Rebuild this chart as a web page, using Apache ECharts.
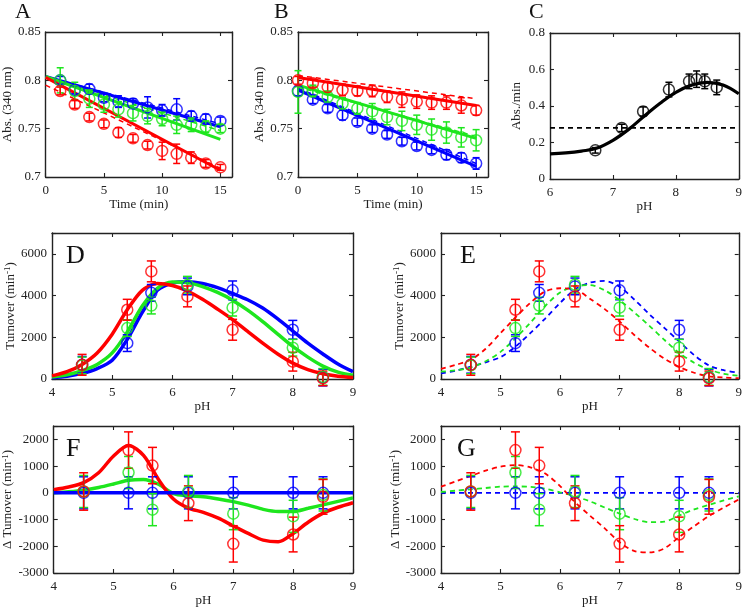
<!DOCTYPE html>
<html><head><meta charset="utf-8">
<script src="https://cdn.jsdelivr.net/npm/echarts@6/dist/echarts.min.js"></script>
<style>html,body{margin:0;padding:0;background:#fff}#c{width:745px;height:608px}</style>
</head><body><div id="c"></div>
<script>
// ---------------- DATA ----------------
// Panel A (absorbance vs time)
const timeA = [1.25,2.5,3.75,5,6.25,7.5,8.75,10,11.25,12.5,13.75,15];
const aBlue = [0.800,0.790,0.791,0.782,0.778,0.776,0.772,0.769,0.770,0.763,0.760,0.758];
const aBlueErr = [0.004,0.004,0.005,0.004,0.006,0.005,0.011,0.006,0.011,0.005,0.005,0.004];
const aGreen = [0.800,0.789,0.781,0.775,0.770,0.766,0.763,0.760,0.754,0.754,0.752,0.750];
const aGreenErr = [0.013,0.009,0.009,0.008,0.008,0.008,0.008,0.007,0.009,0.007,0.006,0.004];
const aRed = [0.789,0.775,0.762,0.755,0.746,0.740,0.733,0.727,0.724,0.720,0.714,0.710];
const aRedErr = [0.004,0.004,0.004,0.004,0.005,0.004,0.004,0.009,0.010,0.006,0.004,0.003];
const fitT = [0, 15];
const aBlueFit = [0.804, 0.752], aBlueDash = [0.804, 0.755];
const aGreenFit = [0.804, 0.739], aGreenDash = [0.803, 0.748];
const aRedFit = [0.803, 0.707], aRedDash = [0.795, 0.709];

// Panel B
const timeB = [0,1.25,2.5,3.75,5,6.25,7.5,8.75,10,11.25,12.5,13.75,15];
const bRed = [0.800,0.797,0.793,0.790,0.789,0.789,0.783,0.780,0.778,0.777,0.777,0.774,0.769];
const bRedErr = [0.004,0.004,0.005,0.006,0.005,0.006,0.006,0.008,0.007,0.007,0.007,0.008,0.005];
const bGreen = [0.788,0.789,0.783,0.776,0.771,0.768,0.762,0.758,0.754,0.749,0.746,0.741,0.738];
const bGreenErr = [0.022,0.006,0.006,0.006,0.006,0.008,0.008,0.010,0.010,0.011,0.011,0.010,0.011];
const bBlue = [0.789,0.780,0.771,0.764,0.757,0.750,0.744,0.737,0.732,0.728,0.723,0.720,0.714];
const bBlueErr = [0.005,0.004,0.004,0.005,0.004,0.004,0.004,0.004,0.004,0.004,0.005,0.005,0.006];
const bRedFit = [0.803, 0.774], bRedDash = [0.805, 0.781];
const bGreenFit = [0.795, 0.740], bGreenDash = [0.793, 0.742];
const bBlueFit = [0.790, 0.711], bBlueDash = [0.792, 0.714];

// Panel C
const cPH = [6.72,7.14,7.48,7.89,8.21,8.33,8.46,8.65];
const cRate = [0.157,0.280,0.370,0.490,0.535,0.547,0.535,0.502];
const cErr = [0.015,0.02,0.025,0.04,0.04,0.045,0.04,0.04];
const cFitPH = [6,6.25,6.5,6.75,7,7.25,7.5,7.75,8,8.25,8.5,8.75,9];
const cFit = [0.138,0.143,0.153,0.170,0.212,0.272,0.345,0.415,0.475,0.515,0.530,0.515,0.467];
const cRefX = [6, 9], cRefY = [0.28, 0.28];

// Panels D/E (turnover vs pH)
const pHs = [4.5,5.25,5.65,6.25,7,8,8.5];
const dBlue = [680,1720,4130,4440,4250,2360,70];
const dBlueErr = [400,400,400,400,450,450,400];
const dGreen = [650,2440,3520,4520,3420,1500,100];
const dGreenErr = [400,400,400,400,400,400,400];
const dRed = [680,3320,5160,3960,2360,830,30];
const dRedErr = [500,500,500,500,500,450,350];
const curvePH = [4,4.25,4.5,4.75,5,5.25,5.5,5.75,6,6.25,6.5,6.75,7,7.25,7.5,7.75,8,8.25,8.5,8.75,9];
const dBlueFit = [60,130,270,500,900,1900,3200,4250,4600,4660,4580,4380,4100,3800,3400,2880,2300,1720,1200,720,350];
const dGreenFit = [100,200,400,700,1250,2250,3500,4350,4650,4620,4430,4150,3780,3300,2750,2150,1560,1050,620,330,180];
const dRedFit = [150,350,700,1250,2150,3320,4250,4580,4480,4220,3820,3350,2850,2280,1720,1200,760,450,250,130,70];
const eBlueFit = [270,400,590,800,1050,1550,2200,2900,3650,4300,4620,4700,4420,3800,3100,2450,1800,1150,650,420,300];
const eGreenFit = [350,420,550,850,1300,1950,2700,3500,4150,4450,4500,4250,3780,3180,2550,1880,1250,780,450,250,150];
const eRedFit = [480,680,920,1450,2200,2950,3650,4200,4350,4300,3850,3350,2750,2100,1500,980,580,300,130,70,40];

// Panels F/G (delta turnover vs pH)
const fBlue = [0,0,0,0,0,0,0];
const fBlueErr = [600,600,600,600,600,600,600];
const fGreen = [50,760,-630,50,-780,-880,-80];
const fGreenErr = [600,600,600,600,600,600,600];
const fRed = [50,1600,1020,-390,-1910,-1560,-150];
const fRedErr = [700,680,680,650,680,650,650];
const fGreenFit = [0,40,100,200,330,470,500,320,-30,-110,-150,-230,-330,-460,-620,-700,-700,-580,-450,-320,-190];
const fRedFit = [120,220,380,750,1380,1770,1400,500,-230,-570,-730,-950,-1240,-1520,-1770,-1835,-1520,-1100,-760,-540,-370];
const zeroX = [4, 9], zeroY = [0, 0];
const gGreenFit = [30,80,130,180,230,240,220,150,20,-130,-320,-550,-780,-980,-1100,-1080,-850,-620,-450,-280,-130];
const gRedFit = [230,430,630,830,980,1040,950,720,250,-350,-850,-1330,-1850,-2180,-2230,-2080,-1650,-1250,-870,-550,-250];

// ---------------- STYLE / LAYOUT ----------------
const BLUE = '#0000ff', GREEN = '#1ee61e', RED = '#ff0000', BLACK = '#000';
const FONT = "'Liberation Serif', 'Times New Roman', serif";
const grids = [
  {left:41, top:32, width:191, height:145},   // A
  {left:298, top:32, width:190, height:145},  // B
  {left:550, top:33, width:191, height:146},  // C
  {left:52, top:233, width:301, height:146},  // D
  {left:441, top:233, width:300, height:146}, // E
  {left:52, top:426, width:301, height:147},  // F
  {left:441, top:426, width:300, height:147}  // G
];
const supRich = {sup:{fontSize:9, verticalAlign:'top', fontFamily:FONT, color:'#222', padding:[0,0,5,0]}};
const turnName = 'Turnover (min{sup|-1})';
const dTurnName = 'Δ Turnover (min{sup|-1})';
const panels = [
  {x:[0,16,5], y:[0.7,0.85,0.05], xn:'Time (min)', yn:'Abs. (340 nm)', xg:21, yg:23, xf:v=>(v%5===0?String(v):''), yf:v=>String(+v.toFixed(2))},
  {x:[0,16,5], y:[0.7,0.85,0.05], xn:'Time (min)', yn:'Abs. (340 nm)', xg:21, yg:26, xf:v=>(v%5===0?String(v):''), yf:v=>String(+v.toFixed(2))},
  {x:[6,9,1], y:[0,0.8,0.2], xn:'pH', yn:'Abs./min', xg:20, yg:27, xf:v=>String(v), yf:v=>String(+v.toFixed(1))},
  {x:[4,9,1], y:[0,7000,2000], xn:'pH', yn:turnName, xg:21, yg:32, xf:v=>String(v), yf:v=>(v%2000===0?String(v):'')},
  {x:[4,9,1], y:[0,7000,2000], xn:'pH', yn:turnName, xg:21, yg:31, xf:v=>String(v), yf:v=>(v%2000===0?String(v):'')},
  {x:[4,9,1], y:[-3000,2500,1000], xn:'pH', yn:dTurnName, xg:21, yg:33, xf:v=>String(v), yf:v=>(v%1000===0?String(v):'')},
  {x:[4,9,1], y:[-3000,2500,1000], xn:'pH', yn:dTurnName, xg:21, yg:33, xf:v=>String(v), yf:v=>(v%1000===0?String(v):'')}
];

function axis(i, pos, r, labels, name, gap, fmt) {
  return {
    type:'value', gridIndex:i, position:pos, min:r[0], max:r[1], interval:r[2],
    axisLine:{show:true, onZero:false, lineStyle:{color:'#222', width:1.4}},
    axisTick:{show:true, inside:true, length:4, lineStyle:{color:'#222', width:1.1}},
    axisLabel:{show:labels, fontFamily:FONT, fontSize:13, color:'#222', margin:(pos==='bottom'?7:5), formatter:fmt},
    splitLine:{show:false},
    name: labels ? name : '', nameLocation:'middle', nameGap:gap,
    nameTextStyle:{fontFamily:FONT, fontSize:13, color:'#222', rich:supRich}
  };
}
const xAxes = [], yAxes = [];
panels.forEach((p, i) => {
  xAxes.push(axis(i, 'bottom', p.x, true, p.xn, p.xg, p.xf));
  xAxes.push(axis(i, 'top', p.x, false, '', 0, p.xf));
  yAxes.push(axis(i, 'left', p.y, true, p.yn, p.yg, p.yf));
  yAxes.push(axis(i, 'right', p.y, false, '', 0, p.yf));
});

const zip = (xs, ys) => xs.map((x, k) => [x, ys[k]]);
function lineS(i, xs, ys, color, width, dashed, smooth) {
  return {type:'line', xAxisIndex:2*i, yAxisIndex:2*i, data:zip(xs, ys), showSymbol:false, symbol:'none',
    smooth:smooth || false, lineStyle:{color, width, type:dashed ? [5,4] : 'solid'}, z:2, silent:true};
}
function scatS(i, xs, ys, color) {
  return {type:'scatter', xAxisIndex:2*i, yAxisIndex:2*i, data:zip(xs, ys), symbol:'circle', symbolSize:11,
    itemStyle:{color:'rgba(0,0,0,0)', borderColor:color, borderWidth:1.5}, z:4, silent:true};
}
function errS(i, xs, ys, es, color, cap) {
  return {type:'custom', xAxisIndex:2*i, yAxisIndex:2*i, z:3, silent:true,
    data:xs.map((x, k) => [x, ys[k], es[k]]),
    encode:{x:0, y:1},
    renderItem(params, api) {
      const x = api.value(0), y = api.value(1), e = api.value(2);
      const t = api.coord([x, y + e]), b = api.coord([x, y - e]);
      const w = cap / 2, st = {stroke:color, lineWidth:1.5};
      return {type:'group', children:[
        {type:'line', shape:{x1:t[0], y1:t[1], x2:b[0], y2:b[1]}, style:st},
        {type:'line', shape:{x1:t[0]-w, y1:t[1], x2:t[0]+w, y2:t[1]}, style:st},
        {type:'line', shape:{x1:b[0]-w, y1:b[1], x2:b[0]+w, y2:b[1]}, style:st}
      ]};
    }};
}

const series = [];
// A
[[aBlue,aBlueErr,aBlueFit,aBlueDash,BLUE],[aGreen,aGreenErr,aGreenFit,aGreenDash,GREEN],[aRed,aRedErr,aRedFit,aRedDash,RED]].forEach(s => {
  series.push(lineS(0, fitT, s[2], s[4], 3, false));
  series.push(lineS(0, fitT, s[3], s[4], 1.5, true));
  series.push(errS(0, timeA, s[0], s[1], s[4], 7));
  series.push(scatS(0, timeA, s[0], s[4]));
});
// B
[[bBlue,bBlueErr,bBlueFit,bBlueDash,BLUE],[bGreen,bGreenErr,bGreenFit,bGreenDash,GREEN],[bRed,bRedErr,bRedFit,bRedDash,RED]].forEach(s => {
  series.push(lineS(1, fitT, s[2], s[4], 3, false));
  series.push(lineS(1, fitT, s[3], s[4], 1.5, true));
  series.push(errS(1, timeB, s[0], s[1], s[4], 7));
  series.push(scatS(1, timeB, s[0], s[4]));
});
// C
series.push(lineS(2, cFitPH, cFit, BLACK, 3.2, false, 0.4));
series.push(lineS(2, cRefX, cRefY, BLACK, 1.6, true));
series.push(errS(2, cPH, cRate, cErr, BLACK, 7));
series.push(scatS(2, cPH, cRate, BLACK));
// D
[[dBlueFit,BLUE],[dGreenFit,GREEN],[dRedFit,RED]].forEach(s => {
  series.push(lineS(3, curvePH, s[0], s[1], 3.5, false, 0.3));
});
[[dBlue,dBlueErr,BLUE],[dGreen,dGreenErr,GREEN],[dRed,dRedErr,RED]].forEach(s => {
  series.push(errS(3, pHs, s[0], s[1], s[2], 9));
  series.push(scatS(3, pHs, s[0], s[2]));
});
// E
[[eBlueFit,BLUE],[eGreenFit,GREEN],[eRedFit,RED]].forEach(s => {
  series.push(lineS(4, curvePH, s[0], s[1], 1.8, true, 0.3));
});
[[dBlue,dBlueErr,BLUE],[dGreen,dGreenErr,GREEN],[dRed,dRedErr,RED]].forEach(s => {
  series.push(errS(4, pHs, s[0], s[1], s[2], 9));
  series.push(scatS(4, pHs, s[0], s[2]));
});
// F
series.push(lineS(5, curvePH, fGreenFit, GREEN, 3.5, false, 0.3));
series.push(lineS(5, curvePH, fRedFit, RED, 3.5, false, 0.3));
series.push(lineS(5, zeroX, zeroY, BLUE, 3.5, false));
[[fBlue,fBlueErr,BLUE],[fGreen,fGreenErr,GREEN],[fRed,fRedErr,RED]].forEach(s => {
  series.push(errS(5, pHs, s[0], s[1], s[2], 9));
  series.push(scatS(5, pHs, s[0], s[2]));
});
// G
series.push(lineS(6, zeroX, zeroY, BLUE, 1.8, true));
series.push(lineS(6, curvePH, gGreenFit, GREEN, 1.8, true, 0.3));
series.push(lineS(6, curvePH, gRedFit, RED, 1.8, true, 0.3));
[[fBlue,fBlueErr,BLUE],[fGreen,fGreenErr,GREEN],[fRed,fRedErr,RED]].forEach(s => {
  series.push(errS(6, pHs, s[0], s[1], s[2], 9));
  series.push(scatS(6, pHs, s[0], s[2]));
});

function letter(t, x, y, size) {
  return {type:'text', x, y, z:100, style:{text:t, fontFamily:FONT, fontSize:size, fill:'#111', verticalAlign:'middle', align:'left'}};
}
const graphic = [
  letter('A', 15, 12, 22), letter('B', 274, 12, 22), letter('C', 529, 12, 22),
  letter('D', 66, 256, 26), letter('E', 460, 256, 26), letter('F', 66, 449, 26), letter('G', 457, 449, 26)
];

const chart = echarts.init(document.getElementById('c'), null, {renderer:'canvas'});
chart.setOption({animation:false, backgroundColor:'#fff', grid:grids, xAxis:xAxes, yAxis:yAxes, series, graphic});
</script></body></html>
